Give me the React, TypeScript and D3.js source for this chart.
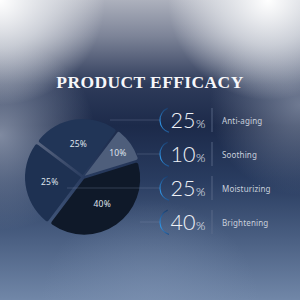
import React from 'react';
import * as d3 from 'd3';

// ---- data ----
const categories = ['Anti-aging', 'Soothing', 'Moisturizing', 'Brightening'];
const values = [25, 10, 25, 40];
const pieOrder = ['Anti-aging', 'Soothing', 'Brightening', 'Moisturizing'];
const title = 'PRODUCT EFFICACY';

// ---- styles / layout ----
const sliceColors: Record<string, string> = {
  'Anti-aging': '#213557',
  'Soothing': '#4e5e7b',
  'Brightening': '#0f1929',
  'Moisturizing': '#1e3152',
};
const connectorStart: Record<string, number> = {
  'Anti-aging': 110,
  'Soothing': 137,
  'Moisturizing': 67,
  'Brightening': 140,
};

const W = 300;
const H = 300;
const cx = 83;
const cy = 177;
const R = 56;

export default function App() {
  const valueOf = (c: string) => values[categories.indexOf(c)];
  const pie = d3
    .pie<string>()
    .sort(null)
    .value((c) => valueOf(c))
    .startAngle((-53 * Math.PI) / 180)
    .endAngle((-53 * Math.PI) / 180 + 2 * Math.PI);
  const arcs = pie(pieOrder);
  const arcGen = d3.arc<d3.PieArcDatum<string>>().innerRadius(0).outerRadius(R).cornerRadius(2);

  const rowY = d3.scalePoint<string>().domain(categories).range([120, 222]);

  const ring = d3
    .arc()
    .innerRadius(12.4)
    .outerRadius(13.6)
    .startAngle((198 * Math.PI) / 180)
    .endAngle((336 * Math.PI) / 180);

  return (
    <svg
      width={W}
      height={H}
      style={{ position: 'absolute', left: 0, top: 0, display: 'block' }}
    >
      <defs>
        <linearGradient id="bg" x1="0" y1="0" x2="0" y2="1">
          <stop offset="0" stopColor="#adb1bd" />
          <stop offset="0.12" stopColor="#7d8498" />
          <stop offset="0.28" stopColor="#2e3b5a" />
          <stop offset="0.42" stopColor="#1c2a4a" />
          <stop offset="0.6" stopColor="#293c60" />
          <stop offset="0.8" stopColor="#4b6083" />
          <stop offset="1" stopColor="#7187a8" />
        </linearGradient>
        <radialGradient id="glowTL" cx="0" cy="0" r="105" gradientUnits="userSpaceOnUse">
          <stop offset="0" stopColor="#ffffff" stopOpacity="1" />
          <stop offset="0.45" stopColor="#eef0f3" stopOpacity="0.7" />
          <stop offset="1" stopColor="#ffffff" stopOpacity="0" />
        </radialGradient>
        <radialGradient id="glowTR" cx="268" cy="0" r="100" gradientUnits="userSpaceOnUse">
          <stop offset="0" stopColor="#ffffff" stopOpacity="1" />
          <stop offset="0.45" stopColor="#eef0f3" stopOpacity="0.7" />
          <stop offset="1" stopColor="#ffffff" stopOpacity="0" />
        </radialGradient>
        <radialGradient id="glowL" cx="0" cy="135" r="95" gradientUnits="userSpaceOnUse">
          <stop offset="0" stopColor="#a9b2c4" stopOpacity="0.7" />
          <stop offset="1" stopColor="#a9b2c4" stopOpacity="0" />
        </radialGradient>
        <radialGradient id="glowR" cx="300" cy="105" r="90" gradientUnits="userSpaceOnUse">
          <stop offset="0" stopColor="#a0a9bc" stopOpacity="0.6" />
          <stop offset="1" stopColor="#a0a9bc" stopOpacity="0" />
        </radialGradient>
        <radialGradient id="glowB" cx="150" cy="310" r="110" gradientUnits="userSpaceOnUse">
          <stop offset="0" stopColor="#7d92b2" stopOpacity="0.6" />
          <stop offset="1" stopColor="#7d92b2" stopOpacity="0" />
        </radialGradient>
        <linearGradient id="ringGrad" x1="0" y1="0" x2="0" y2="1">
          <stop offset="0" stopColor="#1a3a68" />
          <stop offset="0.45" stopColor="#2a7ec8" />
          <stop offset="0.7" stopColor="#3096e6" />
          <stop offset="1" stopColor="#1d4c85" />
        </linearGradient>
      </defs>

      <rect x={0} y={0} width={W} height={H} fill="url(#bg)" />
      <rect x={0} y={0} width={W} height={H} fill="url(#glowL)" />
      <rect x={0} y={0} width={W} height={H} fill="url(#glowR)" />
      <rect x={0} y={0} width={W} height={H} fill="url(#glowB)" />
      <rect x={0} y={0} width={W} height={H} fill="url(#glowTL)" />
      <rect x={0} y={0} width={W} height={H} fill="url(#glowTR)" />

      <text
        x={150}
        y={88}
        textAnchor="middle"
        fontFamily="'Liberation Serif', 'DejaVu Serif', serif"
        fontWeight="bold"
        fontSize={17.5}
        letterSpacing={0.4}
        fill="#f7f7fa"
      >
        {title}
      </text>

      {/* pie */}
      <g transform={`translate(${cx},${cy})`}>
        {arcs.map((a) => {
          const mid = (a.startAngle + a.endAngle) / 2;
          const off = 2;
          const dx = Math.sin(mid) * off;
          const dy = -Math.cos(mid) * off;
          return (
            <path
              key={a.data}
              d={arcGen(a) || ''}
              transform={`translate(${dx},${dy})`}
              fill={sliceColors[a.data]}
            />
          );
        })}
        {arcs.map((a) => {
          const mid = (a.startAngle + a.endAngle) / 2;
          const v = valueOf(a.data);
          const rr = v < 15 ? R * 0.76 : R * 0.6;
          const x = Math.sin(mid) * rr;
          const y = -Math.cos(mid) * rr;
          return (
            <text
              key={'l' + a.data}
              x={x}
              y={y}
              dy="0.35em"
              textAnchor="middle"
              fontFamily="'Noto Sans', Lato, sans-serif"
              fontSize={8.5}
              letterSpacing={0.2}
              fill="#dfe3ec"
            >
              {v}%
            </text>
          );
        })}
      </g>

      {/* connectors */}
      {categories.map((c) => (
        <line
          key={'c' + c}
          x1={connectorStart[c]}
          x2={160}
          y1={rowY(c)}
          y2={rowY(c)}
          stroke="#7e8fae"
          strokeOpacity={0.45}
          strokeWidth={0.7}
        />
      ))}

      {/* rows */}
      {categories.map((c, i) => {
        const y = rowY(c) as number;
        return (
          <g key={'r' + c}>
            <path d={ring({} as any) || ''} transform={`translate(173,${y})`} fill="url(#ringGrad)" />
            <text
              x={170.5}
              y={y + 8}
              fontFamily="Lato, 'Open Sans', sans-serif"
              fontWeight={300}
              fontSize={21.5}
              fill="#eef1f6"
            >
              {values[i]}
              <tspan fontSize={12} dx={0.5}>%</tspan>
            </text>
            <line x1={212} x2={212} y1={y - 12} y2={y + 12} stroke="#5f6f8e" strokeWidth={0.8} />
            <text
              x={222}
              y={y + 3.5}
              fontFamily="'Noto Sans', Lato, sans-serif"
              fontSize={8}
              letterSpacing={0.15}
              fill="#c9d0dc"
            >
              {c}
            </text>
          </g>
        );
      })}
    </svg>
  );
}
